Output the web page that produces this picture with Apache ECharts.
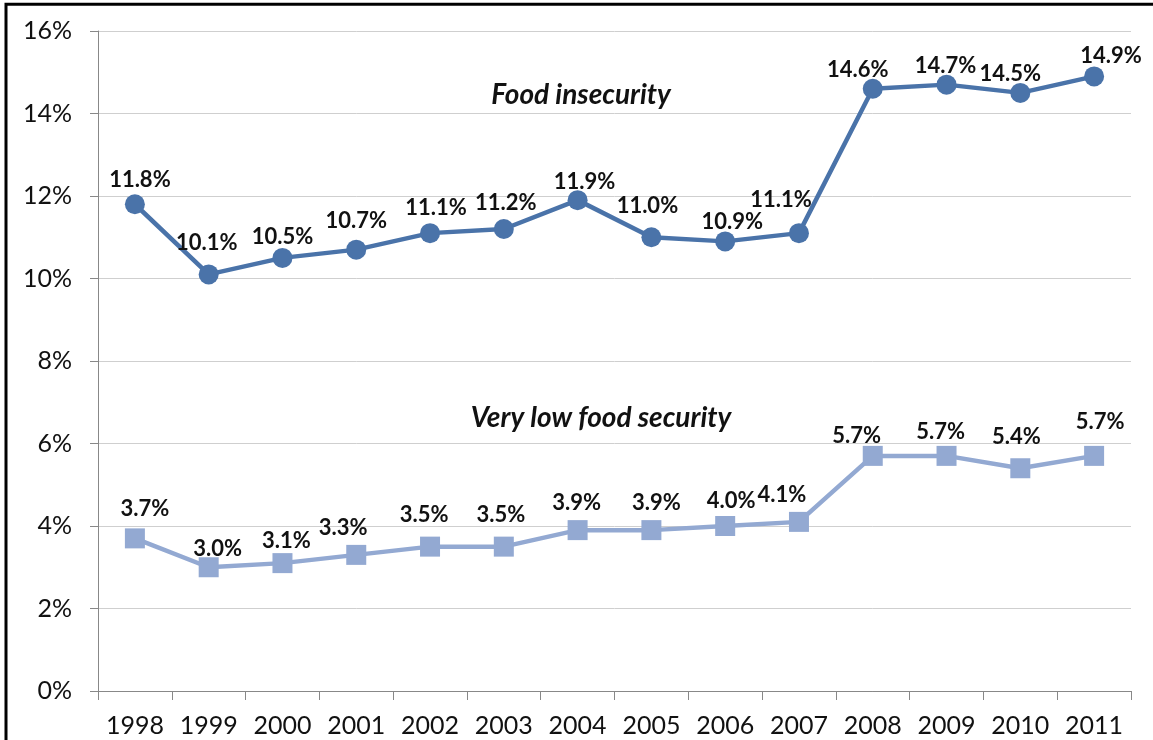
<!DOCTYPE html>
<html>
<head>
<meta charset="utf-8">
<script src="https://cdn.jsdelivr.net/npm/echarts@6/dist/echarts.min.js"></script>
<style>
  html, body { margin: 0; padding: 0; background: #fff; }
  #chart { width: 1153px; height: 740px; }
</style>
</head>
<body>
<div id="chart"></div>
<script>
const years = ['1998','1999','2000','2001','2002','2003','2004','2005','2006','2007','2008','2009','2010','2011'];
const foodInsecurity = [11.8, 10.1, 10.5, 10.7, 11.1, 11.2, 11.9, 11.0, 10.9, 11.1, 14.6, 14.7, 14.5, 14.9];
const veryLowFoodSecurity = [3.7, 3.0, 3.1, 3.3, 3.5, 3.5, 3.9, 3.9, 4.0, 4.1, 5.7, 5.7, 5.4, 5.7];
const yTicks = [0, 2, 4, 6, 8, 10, 12, 14, 16];

// label nudges (styling only)
const fiDx = [5, -2, 0, 0, 6, 2, 7, -4, 7, -18, -15, -1, -10, 17];
const fiDy = [24, 31, 21, 29, 25, 26, 18, 31, 19, 33, 19, 19, 19, 20];
const vlDx = [10, 9, 4, -13, -6, -3, -1, 5, 6, -17, -16, -6, -4, 6];
const vlDy = [29, 18, 22, 27, 32, 32, 27, 27, 25, 27, 20, 24, 31, 34];

const FONT = 'Lato';
const LABEL_SIZE = 22;
const dark = '#4A73A9';
const light = '#93A9D2';

function items(vals, dx, dy) {
  return vals.map((v, i) => ({
    value: v,
    label: { offset: [dx[i], -(dy[i] - 10 - LABEL_SIZE / 2)] }
  }));
}

const chart = echarts.init(document.getElementById('chart'));
chart.setOption({
  animation: false,
  backgroundColor: '#fff',
  grid: { left: 98, right: 22, top: 31, bottom: 49, containLabel: false },
  xAxis: {
    type: 'category',
    data: years,
    boundaryGap: true,
    axisLine: { lineStyle: { color: '#888888', width: 1 } },
    axisTick: { show: true, interval: 0, length: 9, lineStyle: { color: '#888888' } },
    axisLabel: { interval: 0, hideOverlap: false, color: '#111', fontFamily: FONT, fontSize: 25, margin: 22 }
  },
  yAxis: {
    type: 'value',
    min: yTicks[0],
    max: yTicks[yTicks.length - 1],
    interval: 2,
    axisLine: { show: true, lineStyle: { color: '#888888', width: 1 } },
    axisTick: { show: true, length: 8, lineStyle: { color: '#888888' } },
    axisLabel: { color: '#111', fontFamily: FONT, fontSize: 25, margin: 26, formatter: v => v + '%' },
    splitLine: { lineStyle: { color: '#CFCFCF', width: 1 } }
  },
  series: [
    {
      name: 'Food insecurity',
      type: 'line',
      data: items(foodInsecurity, fiDx, fiDy),
      symbol: 'circle',
      symbolSize: 20,
      lineStyle: { color: dark, width: 4.5 },
      itemStyle: { color: dark },
      label: {
        show: true, position: 'top', distance: 0,
        fontFamily: FONT, fontWeight: 'bold', fontSize: LABEL_SIZE, color: '#111',
        formatter: p => p.value.toFixed(1) + '%'
      },
      z: 3
    },
    {
      name: 'Very low food security',
      type: 'line',
      data: items(veryLowFoodSecurity, vlDx, vlDy),
      symbol: 'rect',
      symbolSize: 20,
      lineStyle: { color: light, width: 4.5 },
      itemStyle: { color: light },
      label: {
        show: true, position: 'top', distance: 0,
        fontFamily: FONT, fontWeight: 'bold', fontSize: LABEL_SIZE, color: '#111',
        formatter: p => p.value.toFixed(1) + '%'
      },
      z: 3
    }
  ],
  graphic: [
    {
      type: 'text', x: 581, y: 95,
      style: {
        text: 'Food insecurity', fontFamily: FONT, fontWeight: 'bold', fontStyle: 'italic',
        fontSize: 28, fill: '#111', align: 'center', verticalAlign: 'middle'
      }
    },
    {
      type: 'text', x: 601, y: 418,
      style: {
        text: 'Very low food security', fontFamily: FONT, fontWeight: 'bold', fontStyle: 'italic',
        fontSize: 28, fill: '#111', align: 'center', verticalAlign: 'middle'
      }
    },
    {
      type: 'rect', silent: true, z: 100,
      shape: { x: 6, y: 4.3, width: 1300, height: 900 },
      style: { fill: 'none', stroke: '#000', lineWidth: 3 }
    }
  ]
});
</script>
</body>
</html>
